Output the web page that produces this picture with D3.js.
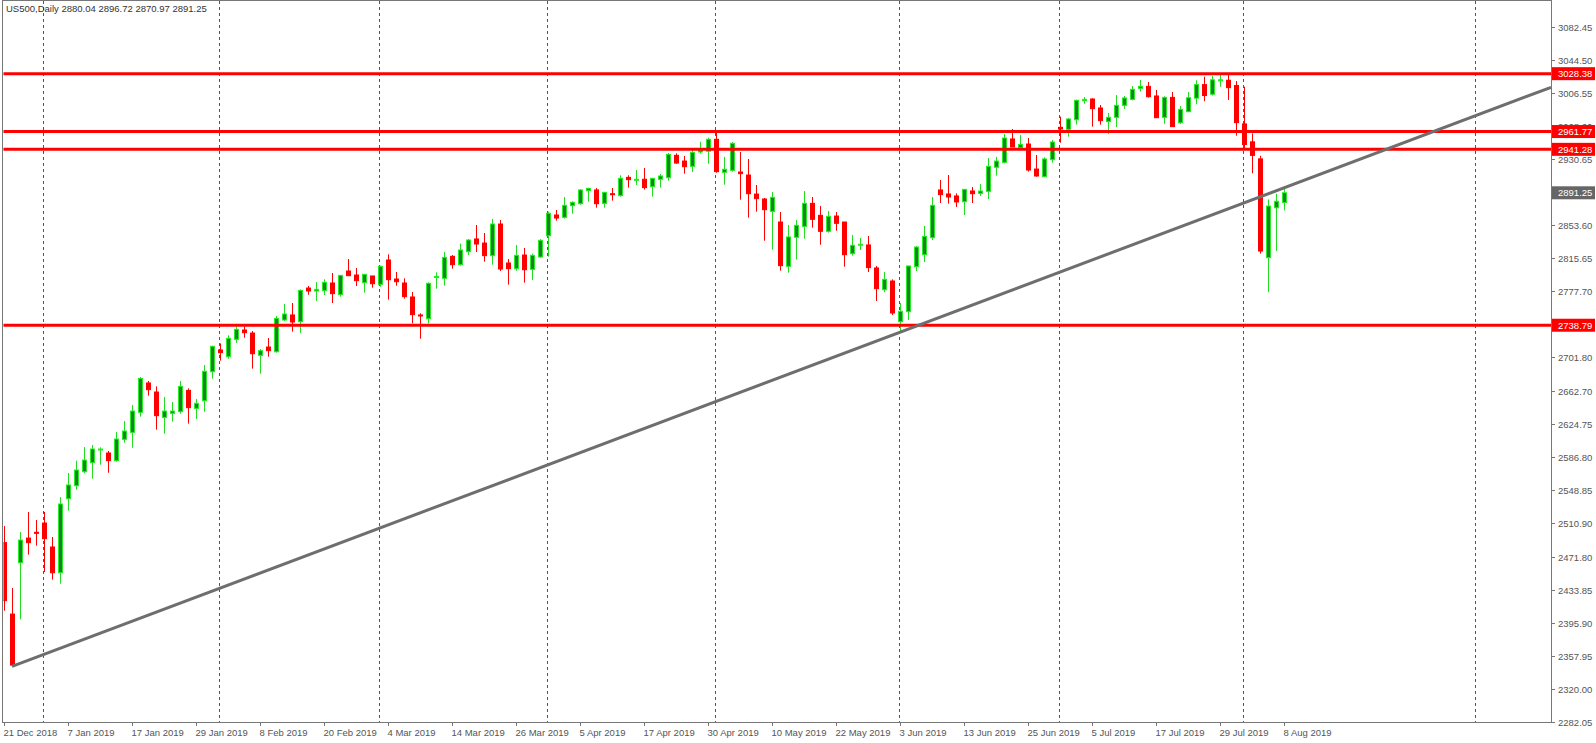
<!DOCTYPE html>
<html lang="en">
<head>
    <meta charset="UTF-8">
    <title>US500 Daily</title>
    <script src="https://d3js.org/d3.v7.min.js"></script>
    <style>
        body { margin: 0; background: #fff; }
        text { font-family: "Liberation Sans", Arial, sans-serif; }
    </style>
</head>
<body>
    <div id="chart"></div>
    <script>
        // OHLC per trading day, index 0 = 21 Dec 2018
        const opens = [2488.5,2406.3,2465.4,2493.8,2500.4,2511.1,2483.5,2453.9,2539.1,2554.1,
            2570.2,2580.6,2595.5,2591.7,2582.9,2607.4,2615.5,2638.5,2672.3,2661.9,
            2632.7,2637.4,2639.3,2663.8,2643.1,2651.9,2685.3,2710.3,2702.6,2722.5,
            2733.3,2729.8,2704.1,2713.7,2708.3,2744.8,2750.6,2742.9,2781.6,2778.2,
            2778.6,2787.4,2774.0,2801.2,2796.6,2787.8,2795.5,2785.9,2813.9,2792.0,
            2787.4,2771.3,2750.6,2746.3,2794.3,2792.8,2818.1,2808.5,2823.5,2838.1,
            2833.4,2818.9,2855.3,2810.4,2803.9,2819.6,2803.1,2817.3,2841.9,2865.7,
            2863.0,2876.4,2878.7,2893.7,2894.5,2879.1,2890.2,2888.0,2909.0,2906.3,
            2906.8,2898.3,2906.8,2908.7,2934.4,2927.8,2921.7,2938.2,2939.0,2952.8,
            2914.8,2917.1,2915.2,2911.7,2889.8,2884.1,2869.9,2857.6,2806.6,2840.0,
            2852.6,2879.1,2865.3,2846.9,2864.5,2857.6,2821.2,2831.9,2831.2,2804.7,
            2779.7,2789.7,2742.9,2754.4,2806.2,2820.0,2839.6,2894.5,2889.9,2887.6,
            2881.0,2893.3,2890.6,2892.9,2920.6,2926.3,2953.2,2943.2,2947.4,2918.6,
            2909.8,2929.4,2966.6,2964.3,2975.4,2997.3,2999.2,2988.9,2973.2,2978.1,
            2991.9,2998.8,3011.5,3013.8,3002.7,2978.1,3001.1,2971.9,2984.6,3000.2,
            3015.8,3004.7,3021.0,3020.8,3014.8,2970.5,2949.9,2930.3,2816.6,2874.0,
            2880.04];
        const highs = [2507.6,2436.3,2500.7,2523.8,2514.6,2523.8,2495.0,2541.0,2568.7,2582.9,
            2598.6,2600.9,2598.2,2594.0,2615.9,2628.5,2647.0,2679.2,2674.6,2668.4,
            2656.2,2650.4,2674.6,2666.1,2653.9,2693.0,2715.2,2717.9,2727.2,2737.5,
            2737.5,2732.1,2711.4,2724.1,2749.4,2763.2,2764.4,2780.1,2783.9,2788.5,
            2791.6,2798.9,2796.2,2815.0,2804.7,2797.4,2795.5,2807.3,2820.4,2800.1,
            2792.8,2777.0,2752.5,2788.2,2799.7,2823.1,2819.6,2832.7,2838.1,2854.2,
            2845.0,2861.1,2859.9,2815.0,2831.1,2827.7,2821.2,2838.0,2869.5,2871.4,
            2886.4,2881.4,2895.6,2896.4,2896.8,2891.8,2896.8,2911.4,2911.4,2917.5,
            2919.8,2907.9,2912.9,2937.1,2936.7,2933.6,2940.5,2950.0,2954.7,2960.9,
            2932.5,2949.7,2938.2,2930.2,2900.2,2885.3,2892.2,2869.1,2854.2,2859.9,
            2893.3,2886.4,2876.0,2870.3,2869.1,2857.6,2842.7,2839.2,2841.5,2807.0,
            2800.1,2791.6,2764.4,2807.0,2830.0,2853.0,2886.4,2906.0,2911.7,2890.6,
            2895.2,2897.9,2901.4,2931.3,2932.5,2958.9,2964.7,2957.8,2954.3,2934.8,
            2932.1,2952.0,2978.9,2977.3,2998.5,3001.5,3000.0,2992.3,2983.1,3003.8,
            3002.7,3014.2,3021.1,3018.8,3009.6,3002.3,3007.3,2991.1,3007.3,3020.8,
            3024.9,3025.9,3026.9,3026.9,3019.8,3013.3,2959.5,2933.8,2883.5,2890.1,
            2896.72];
        const lows = [2410.2,2347.6,2400.2,2474.7,2485.0,2454.7,2445.9,2441.3,2525.3,2549.5,
            2568.3,2562.1,2578.3,2569.0,2581.7,2603.6,2597.8,2633.5,2657.7,2618.6,
            2614.0,2627.8,2637.0,2625.5,2630.8,2639.3,2677.3,2698.0,2700.3,2718.3,
            2724.4,2688.8,2683.0,2702.6,2707.2,2743.6,2731.4,2729.8,2773.9,2766.7,
            2773.6,2764.4,2771.7,2795.8,2783.9,2776.3,2782.0,2783.2,2768.2,2784.3,
            2769.4,2741.0,2723.3,2741.0,2780.9,2784.3,2803.9,2807.3,2819.6,2823.1,
            2812.0,2808.5,2801.2,2785.5,2801.6,2787.8,2790.9,2816.6,2817.7,2859.2,
            2861.5,2867.2,2877.6,2881.0,2874.1,2874.1,2882.2,2886.8,2897.2,2900.2,
            2894.9,2886.8,2897.2,2905.2,2924.8,2913.3,2915.2,2936.3,2924.8,2914.4,
            2900.6,2915.6,2883.3,2862.6,2869.5,2836.1,2825.8,2801.6,2799.3,2814.3,
            2838.4,2851.1,2831.5,2845.4,2847.6,2806.2,2818.9,2825.4,2800.1,2766.7,
            2777.0,2750.6,2731.4,2744.8,2801.2,2811.6,2836.9,2879.5,2878.7,2874.9,
            2865.7,2879.5,2887.6,2884.1,2911.0,2925.2,2944.0,2943.2,2915.6,2909.8,
            2909.8,2925.9,2948.9,2955.9,2969.7,2993.8,2967.4,2969.7,2958.9,2967.0,
            2987.7,2997.7,3007.7,3000.8,2977.7,2970.8,2967.4,2970.4,2984.1,2993.2,
            2996.7,3003.2,3013.3,2998.2,2957.0,2942.9,2913.7,2821.2,2776.9,2824.2,
            2870.97];
        const closes = [2421.7,2347.6,2491.5,2488.5,2500.0,2493.1,2453.9,2533.0,2554.9,2572.1,
            2583.6,2596.3,2596.3,2582.9,2607.8,2617.0,2640.0,2677.6,2664.6,2634.7,
            2640.0,2640.0,2668.4,2643.9,2648.9,2685.7,2714.5,2707.2,2723.7,2734.1,
            2730.2,2706.0,2709.5,2709.5,2746.7,2751.7,2742.5,2778.9,2778.2,2780.1,
            2788.2,2775.1,2796.2,2795.8,2790.1,2797.4,2786.6,2806.6,2791.2,2788.9,
            2771.7,2751.0,2749.8,2787.0,2795.0,2816.9,2808.5,2825.4,2836.9,2832.3,
            2818.9,2855.3,2803.5,2803.9,2819.2,2802.7,2819.2,2836.5,2867.6,2862.2,
            2876.8,2880.3,2894.5,2896.4,2878.7,2891.8,2889.1,2907.9,2906.4,2906.8,
            2897.2,2907.9,2910.6,2935.5,2925.5,2921.3,2937.8,2940.1,2952.8,2915.6,
            2918.3,2948.2,2913.3,2890.2,2884.5,2871.8,2886.0,2807.4,2840.4,2853.8,
            2879.1,2860.7,2846.9,2864.1,2856.1,2820.0,2830.8,2832.0,2805.1,2780.9,
            2791.6,2752.9,2754.8,2807.0,2828.8,2841.1,2876.8,2889.1,2886.4,2880.7,
            2895.2,2890.2,2893.3,2921.7,2927.8,2954.3,2944.0,2947.0,2917.5,2910.6,
            2930.2,2949.7,2964.7,2976.2,2997.7,2998.8,2988.1,2974.3,2978.1,2991.9,
            3000.4,3010.3,3013.8,3001.9,2977.7,3001.1,2967.4,2987.3,3000.7,3015.8,
            3003.2,3021.3,3021.3,3012.3,2972.0,2946.9,2934.3,2824.2,2876.0,2881.5,
            2891.25];

        // date labels every 8 bars
        const dateLabels = ["21 Dec 2018","7 Jan 2019","17 Jan 2019","29 Jan 2019","8 Feb 2019",
            "20 Feb 2019","4 Mar 2019","14 Mar 2019","26 Mar 2019","5 Apr 2019","17 Apr 2019",
            "30 Apr 2019","10 May 2019","22 May 2019","3 Jun 2019","13 Jun 2019","25 Jun 2019",
            "5 Jul 2019","17 Jul 2019","29 Jul 2019","8 Aug 2019"];
        // bar index of each month start separator
        const monthStarts = [5, 27, 47, 68, 89, 112, 132, 155, 184];
        const priceTicks = [3082.45,3044.50,3006.55,2968.60,2930.65,2892.70,2853.60,2815.65,2777.70,
            2739.75,2701.80,2662.70,2624.75,2586.80,2548.85,2510.90,2471.80,2433.85,2395.90,
            2357.95,2320.00,2282.05];
        const levels = [3028.38, 2961.77, 2941.28, 2738.79];
        const lastPrice = 2891.25;
        const trendline = [[1, 2346], [193.375, 3012.7]];

        const W = 1596, H = 743;
        const pLeft = 3, pRight = 1551, pTop = 1, pBottom = 722;

        const svg = d3.select("#chart").append("svg")
            .attr("width", W).attr("height", H)
            .style("display", "block");

        const x = d3.scaleLinear().domain([0, 1]).range([4, 12]);
        const y = d3.scaleLinear().domain([2282.05, 3082.45]).range([pBottom, 26.7]);

        svg.append("defs").append("clipPath").attr("id", "clip")
            .append("rect").attr("x", pLeft + 0.5).attr("y", pTop).attr("width", pRight - pLeft - 0.5).attr("height", pBottom - pTop);

        // month separators
        svg.selectAll(".sep").data(monthStarts).enter().append("line")
            .attr("x1", d => Math.round(x(d)) - 0.5).attr("x2", d => Math.round(x(d)) - 0.5)
            .attr("y1", pTop).attr("y2", pBottom)
            .attr("stroke", "#555").attr("stroke-dasharray", "3,3");

        const plot = svg.append("g").attr("clip-path", "url(#clip)");

        const bars = d3.range(opens.length).map(i => ({
            i: i, o: opens[i], h: highs[i], l: lows[i], c: closes[i]
        }));

        // wicks
        plot.selectAll(".wick").data(bars).enter().append("line")
            .attr("x1", d => x(d.i) + 0.5).attr("x2", d => x(d.i) + 0.5)
            .attr("y1", d => y(d.h)).attr("y2", d => y(d.l))
            .attr("stroke", d => d.c >= d.o ? "#22dd22" : "#ff0000")
            .attr("stroke-width", 1);

        // bodies
        plot.selectAll(".body").data(bars).enter().append("rect")
            .attr("x", d => x(d.i) - 1.5)
            .attr("y", d => y(Math.max(d.o, d.c)))
            .attr("width", 4)
            .attr("height", d => Math.max(1, Math.abs(y(d.o) - y(d.c))))
            .attr("fill", d => d.c >= d.o ? "#1e7f2a" : "#ff0000")
            .attr("stroke", d => d.c >= d.o ? "#22ee22" : "#ff0000")
            .attr("stroke-width", 1);

        // horizontal levels
        plot.selectAll(".lvl").data(levels).enter().append("line")
            .attr("x1", pLeft).attr("x2", pRight)
            .attr("y1", d => y(d)).attr("y2", d => y(d))
            .attr("stroke", "#ff0000").attr("stroke-width", 3);

        // trendline
        plot.append("line")
            .attr("x1", x(trendline[0][0])).attr("y1", y(trendline[0][1]))
            .attr("x2", x(trendline[1][0])).attr("y2", y(trendline[1][1]))
            .attr("stroke", "#6e6e6e").attr("stroke-width", 3);

        // frame
        svg.append("rect").attr("x", pLeft - 0.5).attr("y", pTop - 0.5)
            .attr("width", pRight - pLeft + 1).attr("height", pBottom - pTop + 1)
            .attr("fill", "none").attr("stroke", "#777");

        // price axis
        const yAxis = svg.append("g");
        priceTicks.forEach(p => {
            const py = Math.round(y(p)) + 0.5;
            yAxis.append("line").attr("x1", pRight).attr("x2", pRight + 4)
                .attr("y1", py).attr("y2", py).attr("stroke", "#777");
            yAxis.append("text").attr("x", pRight + 7).attr("y", py + 3.5)
                .attr("font-size", "9.5px").attr("fill", "#555").text(p.toFixed(2));
        });

        // level labels
        const tags = levels.map(v => ({ v: v, fill: "#ff0000" })).concat([{ v: lastPrice, fill: "#666" }]);
        tags.forEach(t => {
            const py = y(t.v);
            yAxis.append("rect").attr("x", pRight + 1).attr("y", py - 6.5)
                .attr("width", 43).attr("height", 13).attr("fill", t.fill);
            yAxis.append("text").attr("x", pRight + 7).attr("y", py + 3.5)
                .attr("font-size", "9.5px").attr("fill", "#fff").text(t.v.toFixed(2));
        });

        // date axis
        const xAxis = svg.append("g");
        dateLabels.forEach((lab, k) => {
            const px = Math.round(x(k * 8)) + 0.5;
            xAxis.append("line").attr("x1", px).attr("x2", px)
                .attr("y1", pBottom).attr("y2", pBottom + 4).attr("stroke", "#777");
            xAxis.append("text").attr("x", px - 1).attr("y", pBottom + 14)
                .attr("font-size", "9.5px").attr("fill", "#555").text(lab);
        });

        // header
        svg.append("text").attr("x", 6).attr("y", 12)
            .attr("font-size", "9.5px").attr("fill", "#333")
            .text("US500,Daily  2880.04 2896.72 2870.97 2891.25");
    </script>
</body>
</html>
